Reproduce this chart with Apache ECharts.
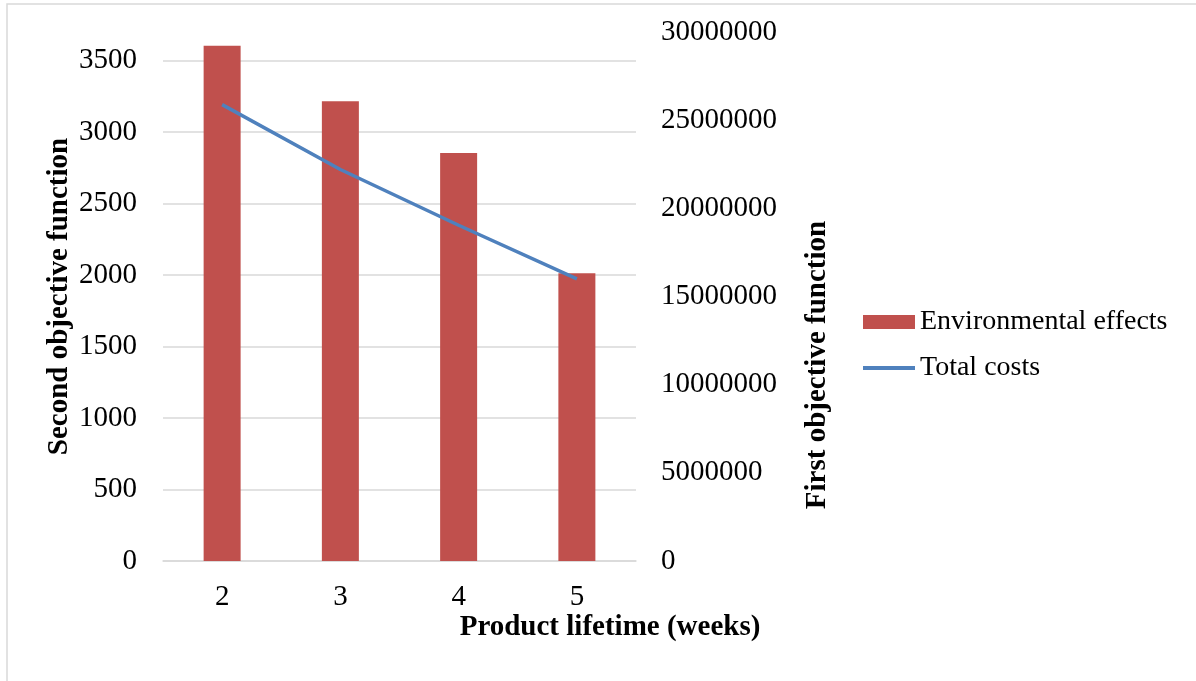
<!DOCTYPE html>
<html>
<head>
<meta charset="utf-8">
<script src="https://cdn.jsdelivr.net/npm/echarts@6/dist/echarts.min.js"></script>
<style>
html,body{margin:0;padding:0;background:#fff;}
#chart{width:1196px;height:681px;}
</style>
</head>
<body>
<div id="chart"></div>
<script>
const categories = ['2', '3', '4', '5'];
const environmentalEffects = [3603, 3215, 2853, 2012];
const totalCosts = [25880000, 22200000, 19040000, 16000000];
const leftTicks = [0, 500, 1000, 1500, 2000, 2500, 3000, 3500];
const rightTicks = [0, 5000000, 10000000, 15000000, 20000000, 25000000, 30000000];

const FONT = '"Liberation Serif", "DejaVu Serif", serif';
const chart = echarts.init(document.getElementById('chart'));
chart.setOption({
  animation: false,
  backgroundColor: '#ffffff',
  textStyle: { fontFamily: FONT },
  grid: { left: 163, right: 560, top: 32, bottom: 120 },
  graphic: [
    { type: 'rect', shape: { x: 7, y: 4, width: 1400, height: 900 },
      style: { fill: 'none', stroke: '#d9d9d9', lineWidth: 1.5 }, silent: true, z: -10 },
    { type: 'text', x: 610, y: 628,
      style: { text: 'Product lifetime (weeks)', font: 'bold 29px ' + FONT, fill: '#000',
        align: 'center', verticalAlign: 'middle' } },
    { type: 'text', x: 818, y: 365, rotation: Math.PI / 2,
      style: { text: 'First objective function', font: 'bold 29px ' + FONT, fill: '#000',
        align: 'center', verticalAlign: 'middle' } }
  ],
  legend: {
    orient: 'vertical',
    left: 863, top: 307, padding: 0,
    itemWidth: 52, itemHeight: 14, itemGap: 16,
    textStyle: { fontFamily: FONT, fontSize: 28, color: '#000', lineHeight: 30 },
    data: [
      { name: 'Environmental effects', icon: 'rect' },
      { name: 'Total costs', icon: 'path://M0,0 L52,0 L52,4 L0,4 Z' }
    ]
  },
  xAxis: {
    type: 'category',
    data: categories,
    axisLine: { lineStyle: { color: '#d9d9d9', width: 1.5 } },
    axisTick: { show: false },
    axisLabel: { fontFamily: FONT, fontSize: 29, color: '#000', margin: 22 }
  },
  yAxis: [
    {
      type: 'value', min: 0, max: 3700, interval: 500,
      name: 'Second objective function', nameLocation: 'middle', nameGap: 89,
      nameTextStyle: { fontFamily: FONT, fontSize: 29, fontWeight: 'bold', color: '#000' },
      axisLine: { show: false }, axisTick: { show: false },
      axisLabel: { fontFamily: FONT, fontSize: 29, color: '#000', margin: 26,
        formatter: v => leftTicks.includes(v) ? String(v) : '' },
      splitLine: { show: true, showMaxLine: false, lineStyle: { color: '#d9d9d9', width: 1.5 } }
    },
    {
      type: 'value', min: 0, max: 30000000, interval: 5000000,
      axisLine: { show: false }, axisTick: { show: false },
      axisLabel: { fontFamily: FONT, fontSize: 29, color: '#000', margin: 25,
        formatter: v => rightTicks.includes(v) ? String(v) : '' },
      splitLine: { show: false }
    }
  ],
  series: [
    {
      name: 'Environmental effects', type: 'bar', yAxisIndex: 0,
      data: environmentalEffects, barWidth: 37,
      itemStyle: { color: '#C0504D' }
    },
    {
      name: 'Total costs', type: 'line', yAxisIndex: 1,
      data: totalCosts, symbol: 'none',
      lineStyle: { color: '#4F81BD', width: 3.5 },
      itemStyle: { color: '#4F81BD' }
    }
  ]
});
</script>
</body>
</html>
